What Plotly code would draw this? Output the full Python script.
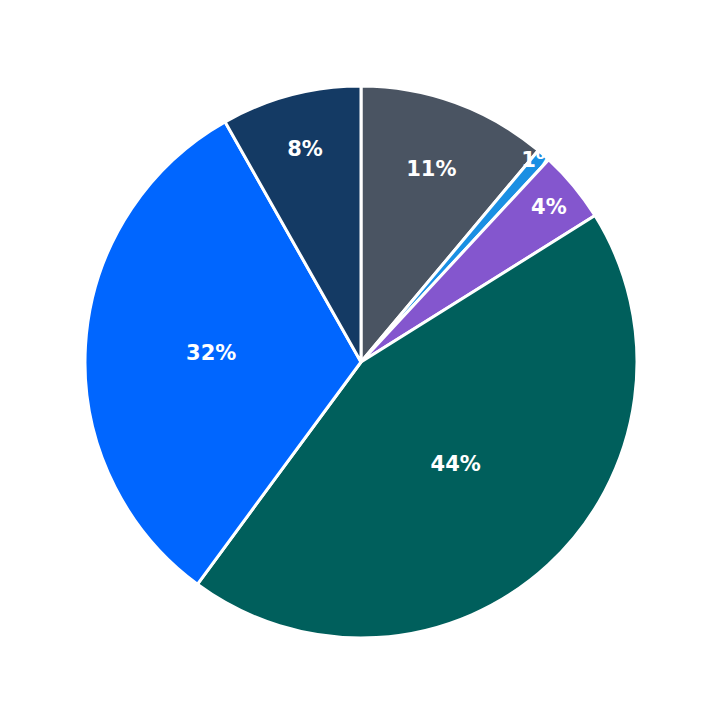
import plotly.graph_objects as go

labels = ["Gray", "Sky", "Purple", "Teal", "Blue", "Navy"]
values = [11.1, 0.8, 4.2, 44.0, 31.7, 8.2]
colors = ["#4a5462", "#1a8fe3", "#8456ce", "#005f5c", "#0066ff", "#143a64"]

fig = go.Figure(go.Pie(
    labels=labels, values=values, sort=False, direction="clockwise", rotation=0,
    marker=dict(colors=colors, line=dict(color="white", width=3)),
    texttemplate="%{percent:.0%}", textposition="inside",
    insidetextorientation="horizontal",
    textfont=dict(family="DejaVu Sans", size=21, color="white", weight="bold"),
    hoverinfo="label+percent",
))
fig.update_layout(width=723, height=723, showlegend=False,
                  margin=dict(l=77, r=94, t=78, b=93),
                  paper_bgcolor="white",
                  uniformtext=dict(minsize=21, mode="show"))
fig.write_html("out.html")
